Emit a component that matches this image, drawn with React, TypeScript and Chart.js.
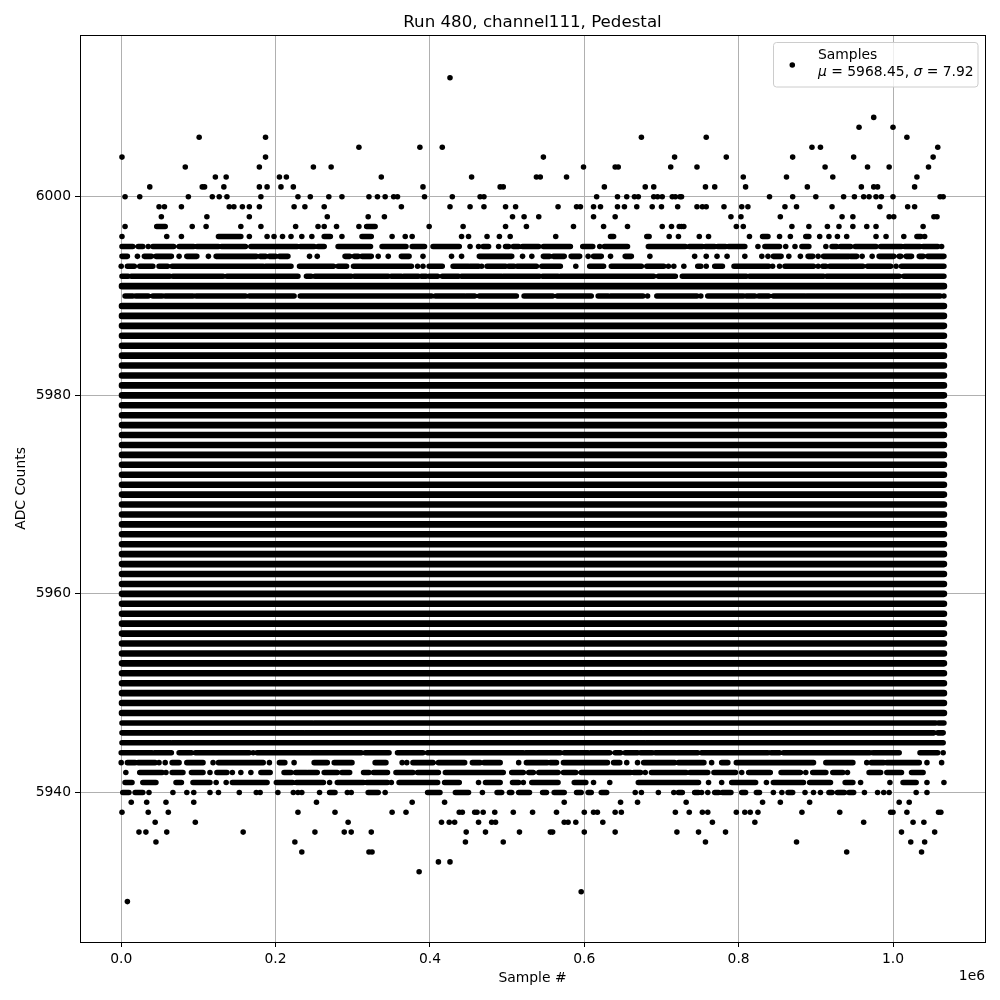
import React, { useEffect, useRef } from "react";
import { Chart, registerables } from "chart.js";

Chart.register(...registerables);

type Cell = number | [number, number];

// Sample numbers are in thousands. A number is one sample, a pair is a run of overlapping samples.
const xTicks = [0, 200, 400, 600, 800, 1000];
const yTicks = [5940, 5960, 5980, 6000];

const solidLevels = [5948, 5949, 5950, 5951, 5952, 5953, 5954, 5955, 5956, 5957, 5958, 5959, 5960, 5961, 5962, 5963, 5964, 5965, 5966, 5967, 5968, 5969, 5970, 5971, 5972, 5973, 5974, 5975, 5976, 5977, 5978, 5979, 5980, 5981, 5982, 5983, 5984, 5985, 5986, 5987, 5988, 5989, 5991];
const solidRun: [number, number] = [1, 1066];

const row6012: Cell[] = [426];
const row6008: Cell[] = [975];
const row6007: Cell[] = [956, 1000];
const row6006: Cell[] = [101, 187, 674, 758, 1018];
const row6005: Cell[] = [308, 387, 416, 895, 906, 1058];
const row6004: Cell[] = [1, 187, 547, 717, 784, 870, 949, 1052];
const row6003: Cell[] = [83, 179, 249, 272, 599, 640, 644, 712, 746, 912, 967, 995, 1046];
const row6002: Cell[] = [122, 136, 205, 214, 337, 454, 538, 543, 577, 806, 862, 922, 1031];
const row6001: Cell[] = [37, 105, 108, 133, 179, 189, 207, 223, 391, 491, 495, 626, 679, 690, 757, 769, 809, 889, 959, 975, 980, 1028];
const row6000: Cell[] = [5, 24, 87, 118, 127, 137, 181, 229, 245, 269, 286, 321, 332, 342, 353, 358, 393, 429, 465, 470, 616, 643, 655, 665, 670, 690, 695, 701, 714, 718, 724, 726, 840, 870, 900, 936, 950, 962, 969, 978, 985, 1000, 1061, 1065];
const row5999: Cell[] = [49, 56, 78, 140, 146, 157, 166, 179, 224, 238, 263, 363, 426, 452, 470, 498, 511, 566, 590, 595, 612, 621, 643, 652, 668, 688, 700, 721, 746, 753, 758, 781, 804, 812, 860, 875, 921, 983, 1019, 1028];
const row5998: Cell[] = [52, 111, 166, 267, 320, 341, 507, 522, 541, 612, 640, 790, 803, 854, 934, 948, 995, 1001, 1053, 1057];
const row5997: Cell[] = [5, [46, 57], 92, 110, 155, 181, 226, 255, 263, 279, 308, [318, 329], 399, 443, 498, 525, 586, 625, 656, 701, 713, 723, 726, 729, 797, 806, 869, 891, 915, 930, 948, 966, 978, 1039];
const row5996: Cell[] = [1, 59, 78, [126, 155], 166, 189, 198, 209, 220, 234, 247, [263, 271], 286, [312, 324], 351, 368, 377, 441, 450, 474, 490, 504, 563, [634, 638], [681, 684], 710, 722, 749, 761, 814, [831, 838], 853, 867, [887, 891], 905, 917, 928, 940, 978, 991, 1014, [1031, 1036], 1041];
const row5995: Cell[] = [[1, 15], [22, 28], 35, [41, 68], [75, 94], [98, 126], [130, 161], [168, 228], [232, 250], [255, 263], [281, 323], [338, 369], [377, 393], [404, 438], 452, 463, [469, 476], 489, [498, 502], [508, 515], [520, 541], [547, 582], [598, 611], 620, [626, 656], [683, 731], [736, 753], [757, 769], [773, 783], [787, 808], 825, [834, 853], 861, 873, [882, 891], 913, [921, 927], [932, 945], [951, 978], [984, 1011], [1015, 1035], [1039, 1058], 1063];
const row5994: Cell[] = [[1, 8], 21, [30, 39], [45, 65], 75, [85, 98], 113, [123, 175], [180, 187], [192, 200], [205, 216], 244, 254, [290, 296], [302, 307], [312, 324], 333, 346, [363, 373], 391, 428, 441, [464, 506], 520, 532, [547, 555], [560, 574], [583, 594], 605, [612, 622], 634, [653, 661], 685, 743, 758, 772, 785, 808, 830, 838, [845, 855], 865, 880, [890, 896], 903, [910, 943], [945, 953], 960, 973, [982, 1001], [1008, 1010], [1017, 1024], [1034, 1039], [1045, 1066]];
const row5993: Cell[] = [0, [8, 17], [24, 41], [49, 60], [66, 184], [187, 220], [231, 275], [281, 292], [301, 376], 384, 391, [399, 416], [430, 450], [452, 463], 467, [474, 498], [502, 509], [513, 538], [545, 569], 589, [607, 625], [635, 674], [681, 703], 709, 716, 729, [747, 751], 758, [769, 779], [794, 839], 844, 853, [860, 897], 903, [909, 913], [918, 961], [967, 997], 1004, [1011, 1066]];
const row5992: Cell[] = [[1, 9], [13, 63], [67, 132], [137, 229], [240, 246], [251, 298], [302, 346], [350, 363], [366, 385], [389, 395], [399, 410], [416, 437], [441, 493], [495, 542], [546, 566], [569, 690], [696, 718], [727, 810], [814, 910], [914, 1008], [1014, 1066]];
const row5990: Cell[] = [[5, 15], [19, 35], [41, 53], [57, 93], [97, 161], [166, 224], [232, 402], [407, 445], [447, 458], [464, 512], [522, 559], [565, 609], [618, 631], [634, 676], 682, [694, 746], 751, [760, 806], [810, 821], [826, 839], [845, 886], [888, 1008], [1010, 1061], 1066];
const row5947: Cell[] = [[1, 248], [250, 1055], [1059, 1066]];
const row5946: Cell[] = [[1, 236], [238, 675], [677, 1053], [1058, 1065]];
const row5945: Cell[] = [[1, 64], [66, 678], [680, 1065]];
const row5944: Cell[] = [[0, 40], [43, 65], [75, 91], [96, 166], 171, [176, 244], [246, 311], [316, 347], [358, 391], [397, 521], [524, 569], [574, 605], [608, 633], [640, 647], [653, 669], [673, 688], [692, 747], [752, 838], [842, 853], [858, 970], [974, 1008], [1035, 1058], 1065];
const row5943: Cell[] = [0, [8, 18], [22, 44], 49, 57, [66, 75], [85, 106], 119, [126, 184], 192, [205, 212], 224, [250, 267], [276, 299], [329, 343], 364, 370, [378, 404], [411, 445], [455, 465], [470, 491], 515, [525, 552], [556, 564], [573, 630], [638, 646], 655, 669, [677, 717], [722, 755], 765, [778, 786], [797, 897], [913, 948], 966, [972, 988], [992, 1034], 1044, 1063];
const row5942: Cell[] = [6, [24, 53], 58, [66, 80], [91, 106], 115, [124, 137], 144, 155, 168, [181, 193], [211, 220], [226, 240], [242, 254], [263, 280], [286, 296], [314, 321], [327, 345], [356, 378], [384, 411], [420, 495], [506, 521], [528, 534], [541, 566], [573, 589], [596, 660], [664, 673], 679, [687, 732], [737, 760], [768, 796], 804, [813, 841], [855, 880], 887, [896, 913], [922, 935], 941, [969, 984], [992, 1011], [1024, 1039]];
const row5941: Cell[] = [[5, 14], [28, 45], [71, 78], [93, 115], 123, 136, [144, 189], [201, 222], [227, 262], 270, [280, 314], [318, 345], 350, [360, 410], [419, 438], 463, [472, 491], [507, 515], 521, [532, 566], [587, 602], 612, 633, [670, 748], 761, 778, [791, 822], 836, [845, 884], [892, 919], [938, 948], 958, 996, [1013, 1030], 1044, 1066];
const row5940: Cell[] = [[2, 10], [18, 28], 36, 67, 85, 94, 115, 126, 153, 175, 180, 203, 223, 229, 234, 257, [270, 277], 293, 298, [320, 333], 342, [397, 413], [433, 450], 468, [487, 493], [503, 506], [515, 529], [546, 551], [561, 574], [590, 596], [605, 609], [622, 629], 666, 674, 696, 716, [722, 727], [743, 748], 752, 760, [769, 774], [779, 790], [804, 809], [823, 827], 845, 856, [864, 870], 886, 897, 906, [917, 921], [928, 937], [943, 949], 963, 980, 988, 995, 1030, 1044];
const row5939: Cell[] = [13, 33, 58, 94, 253, 377, 419, 574, 647, 669, 732, 831, 854, 892, 1008, 1021];
const row5938: Cell[] = [1, 35, 61, 229, 277, 351, 369, 438, 442, 458, 461, 469, 484, 508, 533, 564, 600, 612, 617, 640, 648, 718, 736, 753, 760, 797, 808, 815, 825, 882, 931, 997, 1000, 1018, 1059, 1062];
const row5937: Cell[] = [44, 96, 294, 415, 425, 432, 463, 480, 485, 574, 579, 589, 624, 766, 821, 962, 1026, 1040];
const row5936: Cell[] = [23, 32, 59, 158, 251, 289, 298, 324, 447, 472, 516, 556, 559, 600, 640, 720, 748, 783, 1011, 1054];
const row5935: Cell[] = [45, 225, 446, 495, 757, 875, 1023, 1041];
const row5934: Cell[] = [234, 321, 325, 940, 1037];
const row5933: Cell[] = [411, 426];
const row5932: Cell[] = [386];
const row5930: Cell[] = [596];
const row5929: Cell[] = [8];

const levelRows: [number, Cell[]][] = [
  [6012, row6012], [6008, row6008], [6007, row6007], [6006, row6006], [6005, row6005], [6004, row6004],
  [6003, row6003], [6002, row6002], [6001, row6001], [6000, row6000], [5999, row5999], [5998, row5998],
  [5997, row5997], [5996, row5996], [5995, row5995], [5994, row5994], [5993, row5993], [5992, row5992],
  [5990, row5990], [5947, row5947], [5946, row5946], [5945, row5945], [5944, row5944], [5943, row5943],
  [5942, row5942], [5941, row5941], [5940, row5940], [5939, row5939], [5938, row5938], [5937, row5937],
  [5936, row5936], [5935, row5935], [5934, row5934], [5933, row5933], [5932, row5932], [5930, row5930],
  [5929, row5929],
];

const FONT = '"DejaVu Sans"';

const frameAndLegend = {
  id: "frameAndLegend",
  afterDraw(chart: any) {
    const { ctx, chartArea: a } = chart;
    ctx.save();
    ctx.strokeStyle = "#000";
    ctx.lineWidth = 1;
    ctx.strokeRect(a.left + 0.5, a.top + 0.5, a.right - a.left, a.bottom - a.top);

    ctx.fillStyle = "#000";
    ctx.textBaseline = "alphabetic";
    ctx.textAlign = "center";
    ctx.font = `16.67px ${FONT}`;
    ctx.fillText("Run 480, channel111, Pedestal", (a.left + a.right) / 2, 27);

    ctx.textAlign = "right";
    ctx.font = `13.89px ${FONT}`;
    ctx.fillText("1e6", a.right, 980);

    const bx = 773.5, by = 42.5, bw = 204.5, bh = 44.5;
    ctx.beginPath();
    ctx.roundRect(bx, by, bw, bh, 3);
    ctx.fillStyle = "rgba(255,255,255,0.8)";
    ctx.fill();
    ctx.strokeStyle = "#cccccc";
    ctx.stroke();

    ctx.fillStyle = "#000";
    ctx.beginPath();
    ctx.arc(792.3, 65, 2.78, 0, Math.PI * 2);
    ctx.fill();

    ctx.textAlign = "left";
    const tx = 818;
    ctx.fillText("Samples", tx, 59);
    let cx = tx;
    const parts: [string, boolean][] = [["μ", true], [" = 5968.45, ", false], ["σ", true], [" = 7.92", false]];
    for (const [text, italic] of parts) {
      ctx.font = `${italic ? "italic " : ""}13.89px ${FONT}`;
      ctx.fillText(text, cx, 76);
      cx += ctx.measureText(text).width;
    }
    ctx.restore();
  },
};

export default function App() {
  const ref = useRef<HTMLCanvasElement>(null);

  useEffect(() => {
    const singles: { x: number; y: number }[] = [];
    const runs: { x: number; y: number }[] = [];
    const solid: { x: number; y: number }[] = [];
    for (const [level, cells] of levelRows) {
      for (const c of cells) {
        if (typeof c === "number") singles.push({ x: c, y: level });
        else runs.push({ x: c[0], y: level }, { x: c[1], y: level }, { x: NaN, y: NaN });
      }
    }
    for (const level of solidLevels) {
      solid.push({ x: solidRun[0], y: level }, { x: solidRun[1], y: level }, { x: NaN, y: NaN });
    }

    const lineStyle = {
      showLine: true,
      spanGaps: false,
      pointRadius: 0,
      pointHoverRadius: 0,
      borderColor: "#000",
      backgroundColor: "#000",
      borderCapStyle: "round" as const,
      tension: 0,
    };

    const chart = new Chart(ref.current!, {
      type: "scatter",
      data: {
        datasets: [
          { label: "Samples", data: singles, pointRadius: 2.78, pointBorderWidth: 0, backgroundColor: "#000", borderColor: "#000" },
          { label: "Samples runs", data: runs, borderWidth: 5.56, ...lineStyle },
          { label: "Samples solid", data: solid, borderWidth: 6.6, ...lineStyle },
        ],
      },
      options: {
        responsive: false,
        animation: false,
        layout: { padding: { top: 35, right: 15, left: 0, bottom: 0 } },
        plugins: { legend: { display: false }, title: { display: false }, tooltip: { enabled: false } },
        scales: {
          x: {
            type: "linear",
            min: -53.4,
            max: 1119.2,
            afterBuildTicks: (s: any) => { s.ticks = xTicks.map((value) => ({ value })); },
            afterFit: (s: any) => { s.height = 58; },
            ticks: {
              autoSkip: false,
              maxRotation: 0,
              color: "#000",
              padding: 4,
              font: { family: FONT, size: 13.89 },
              callback: (v: any) => (Number(v) / 1000).toFixed(1),
            },
            grid: { color: "#b0b0b0", lineWidth: 1, tickColor: "#000", tickLength: 5 },
            border: { color: "#000", width: 1 },
            title: { display: true, text: "Sample #", color: "#000", font: { family: FONT, size: 13.89 }, padding: { top: 1, bottom: 13 } },
          },
          y: {
            type: "linear",
            min: 5924.93,
            max: 6016.3,
            afterBuildTicks: (s: any) => { s.ticks = yTicks.map((value) => ({ value })); },
            afterFit: (s: any) => { s.width = 80; },
            ticks: {
              autoSkip: false,
              color: "#000",
              padding: 4,
              font: { family: FONT, size: 13.89 },
              callback: (v: any) => String(v),
            },
            grid: { color: "#b0b0b0", lineWidth: 1, tickColor: "#000", tickLength: 5 },
            border: { color: "#000", width: 1 },
            title: { display: true, text: "ADC Counts", color: "#000", font: { family: FONT, size: 13.89 }, padding: { top: 13, bottom: 0 } },
          },
        },
      },
      plugins: [frameAndLegend],
    } as any);
    return () => chart.destroy();
  }, []);

  return (
    <div style={{ position: "fixed", left: 0, top: 0, width: 1000, height: 1000, background: "#fff" }}>
      <canvas ref={ref} width={1000} height={1000} style={{ display: "block" }} />
    </div>
  );
}
